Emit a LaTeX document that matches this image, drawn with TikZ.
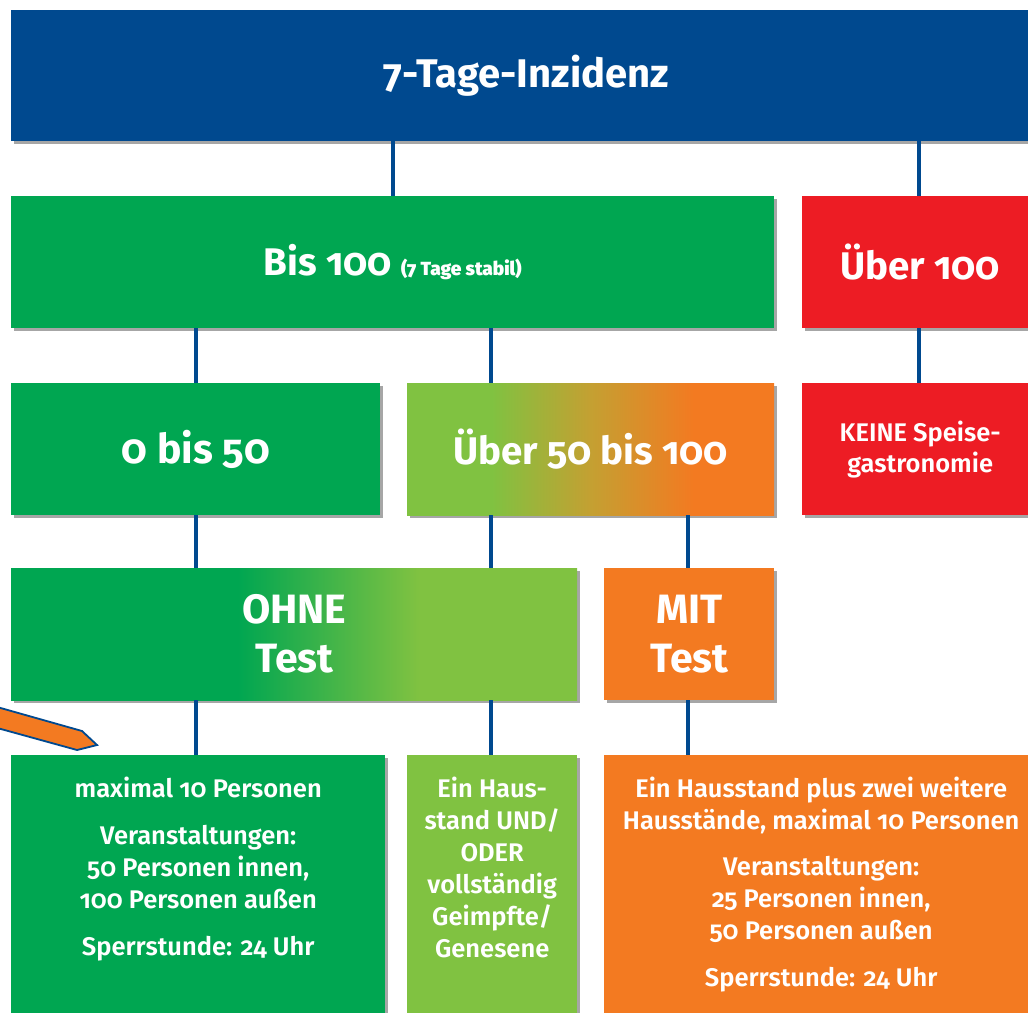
\documentclass[tikz,border=0pt]{standalone}
\usepackage{fontspec}
\setmainfont{Fira Sans}[Numbers=OldStyle]
\newfontfamily\semib{Fira Sans SemiBold}[Numbers=OldStyle]
\usetikzlibrary{shadows}
\definecolor{cblue}{RGB}{0,73,143}
\definecolor{cgreen}{RGB}{0,166,81}
\definecolor{clgreen}{RGB}{128,194,65}
\definecolor{corange}{RGB}{243,122,33}
\definecolor{cred}{RGB}{237,28,36}
\definecolor{cmid}{RGB}{196,160,50}
\pgfdeclarehorizontalshading{ohneshade}{100bp}{color(0bp)=(cgreen); color(45bp)=(cgreen); color(61bp)=(clgreen); color(100bp)=(clgreen)}
\pgfdeclarehorizontalshading{fuenfzigshade}{100bp}{color(0bp)=(clgreen); color(36.5bp)=(clgreen); color(50bp)=(cmid); color(64bp)=(corange); color(100bp)=(corange)}
\tikzset{
  box/.style={rectangle, inner sep=0pt, anchor=north west, text=white,
    font=\bfseries\fontsize{38.5}{49}\selectfont, align=center,
    drop shadow={shadow xshift=3pt, shadow yshift=-3pt, opacity=0.35, fill=black}},
  conn/.style={cblue, line width=4pt},
  bodytext/.style={text=white, font=\semib\fontsize{25.5}{32}\selectfont, align=center, anchor=north, inner sep=0pt},
  arrowshape/.style={fill=corange, draw=cblue, line width=1.8pt, line join=miter}
}
\begin{document}
\begin{tikzpicture}[x=1pt,y=-1pt]
\useasboundingbox (0,0) rectangle (1028,1012);
\clip (0,0) rectangle (1028,1012);
\fill[white] (0,0) rectangle (1028,1012);
% boxes
\node[box, fill=cblue, minimum width=1030pt, minimum height=131pt, font=\bfseries\fontsize{40}{49}\selectfont] (inz) at (11,10) {7-Tage-Inzidenz};
\node[box, fill=cgreen, minimum width=763pt, minimum height=132pt] (bis) at (11,196) {Bis 100 {\semib\fontsize{19}{22}\selectfont(7 Tage stabil)}};
\node[box, fill=cred, minimum width=236pt, minimum height=132pt] (ueber) at (802,196) {Über 100};
\node[box, fill=cgreen, minimum width=369pt, minimum height=132pt, font=\bfseries\fontsize{41}{49}\selectfont] (nullbis) at (11,383) {0 bis 50};
\node[box, shading=fuenfzigshade, minimum width=367pt, minimum height=132pt] (fuenfzig) at (407,383) {Über 50 bis 100};
\node[box, fill=cred, minimum width=236pt, minimum height=132pt, font=\semib\fontsize{25.5}{31}\selectfont] (keine) at (802,383) {KEINE Speise-\\gastronomie};
\node[box, shading=ohneshade, minimum width=566pt, minimum height=132pt, font=\bfseries\fontsize{41}{49}\selectfont] (ohne) at (11,568) {OHNE\\Test};
\node[box, fill=corange, minimum width=170pt, minimum height=132pt, font=\bfseries\fontsize{41}{49}\selectfont] (mit) at (604,568) {MIT\\Test};
\node[box, fill=cgreen, minimum width=374pt, minimum height=280pt] (regA) at (11,755) {};
\node[box, fill=clgreen, minimum width=170pt, minimum height=280pt] (regB) at (407,755) {};
\node[box, fill=corange, minimum width=434pt, minimum height=280pt] (regC) at (604,755) {};
% texts of the lowest row
\node[bodytext] (tA) at ([yshift=-22pt]regA.north) {maximal 10 Personen\\[15pt]Veranstaltungen:\\50 Personen innen,\\100 Personen außen\\[15pt]Sperrstunde: 24 Uhr};
\node[bodytext] (tB) at ([yshift=-22pt]regB.north) {Ein Haus-\\stand UND/\\ODER\\vollständig\\Geimpfte/\\Genesene};
\node[bodytext] (tC) at ([yshift=-22pt]regC.north) {Ein Hausstand plus zwei weitere\\Hausstände, maximal 10 Personen\\[14pt]Veranstaltungen:\\25 Personen innen,\\50 Personen außen\\[15pt]Sperrstunde: 24 Uhr};
% connector columns
\coordinate (xa) at (196,0);
\coordinate (xb) at (393,0);
\coordinate (xc) at (491,0);
\coordinate (xd) at (688,0);
\coordinate (xe) at (919,0);
\draw[conn] (inz.south -| xb) -- (bis.north -| xb);
\draw[conn] (inz.south -| xe) -- (ueber.north -| xe);
\draw[conn] (bis.south -| xa) -- (nullbis.north -| xa);
\draw[conn] (bis.south -| xc) -- (fuenfzig.north -| xc);
\draw[conn] (ueber.south -| xe) -- (keine.north -| xe);
\draw[conn] (nullbis.south -| xa) -- (ohne.north -| xa);
\draw[conn] (fuenfzig.south -| xc) -- (ohne.north -| xc);
\draw[conn] (fuenfzig.south -| xd) -- (mit.north -| xd);
\draw[conn] (ohne.south -| xa) -- (regA.north -| xa);
\draw[conn] (ohne.south -| xc) -- (regB.north -| xc);
\draw[conn] (mit.south -| xd) -- (regC.north -| xd);
% pointer arrow
\draw[arrowshape] (-10,705) -- (82,731) -- (97,745) -- (77,750) -- (-10,726) -- cycle;
\end{tikzpicture}
\end{document}
